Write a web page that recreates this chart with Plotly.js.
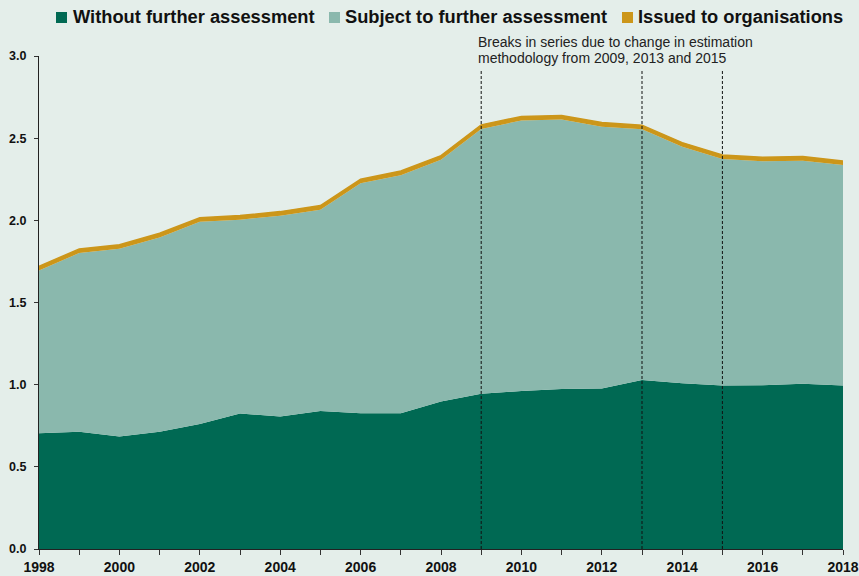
<!DOCTYPE html>
<html>
<head>
<meta charset="utf-8">
<script src="https://cdn.plot.ly/plotly-3.0.1.min.js"></script>
<style>
html,body{margin:0;padding:0;background:#e4eeea;}
#chart{width:859px;height:576px;}
</style>
</head>
<body>
<div id="chart"></div>
<script>
// Data (millions)
const years = [1998,1999,2000,2001,2002,2003,2004,2005,2006,2007,2008,2009,2010,2011,2012,2013,2014,2015,2016,2017,2018];
const withoutFurther = [0.705,0.713,0.684,0.714,0.761,0.824,0.806,0.840,0.826,0.826,0.897,0.944,0.962,0.974,0.976,1.029,1.009,0.995,0.997,1.005,0.995];
const subjectToFurther = [0.990,1.088,1.143,1.182,1.230,1.180,1.222,1.225,1.399,1.449,1.472,1.612,1.645,1.639,1.594,1.525,1.439,1.378,1.362,1.358,1.341];
const issuedToOrgs = [0.025,0.025,0.025,0.025,0.025,0.025,0.025,0.025,0.025,0.025,0.025,0.025,0.025,0.025,0.025,0.025,0.025,0.025,0.025,0.025,0.025];
const seriesNames = ['Without further assessment','Subject to further assessment','Issued to organisations'];
const breakYears = [2009,2013,2015];
const breakNoteLines = ['Breaks in series due to change in estimation','methodology from 2009, 2013 and 2015'];
const tickLabels = years.map(y => (y % 2 === 0 ? String(y) : ''));

const cDark = '#006953';
const cTeal = '#8ab8ad';
const cGold = '#cc961a';
const colors = [cDark, cTeal, cGold];
const bg = '#e4eeea';

const W = 859, H = 576;
const M = {l: 39, r: 16, t: 56, b: 27};
const pw = W - M.l - M.r, ph = H - M.t - M.b;
const px2paperX = px => (px - M.l) / pw;
const py2paperY = py => (H - M.b - py) / ph;

const traces = [
  {x: years, y: withoutFurther, name: seriesNames[0], type: 'scatter', mode: 'lines',
   stackgroup: 'one', fillcolor: cDark, line: {color: cDark, width: 0}},
  {x: years, y: subjectToFurther, name: seriesNames[1], type: 'scatter', mode: 'lines',
   stackgroup: 'one', fillcolor: cTeal, line: {color: cTeal, width: 0}},
  {x: years, y: issuedToOrgs, name: seriesNames[2], type: 'scatter', mode: 'lines',
   stackgroup: 'one', fillcolor: cGold, line: {color: cGold, width: 1.5}}
];

const topY = 2.915;
const shapes = breakYears.map(yr => ({
  type: 'line', xref: 'x', yref: 'y', x0: yr, x1: yr, y0: 0, y1: topY,
  line: {color: '#111', width: 1, dash: '3px,2px'}, layer: 'above'
}));

// Custom legend: small squares + bold labels
const legendSquareX = [56, 329, 622];
const legendTextX = [71, 343, 636];
const legendCY = 17;
legendSquareX.forEach((sx, i) => {
  shapes.push({type: 'rect', xref: 'paper', yref: 'paper',
    x0: px2paperX(sx), x1: px2paperX(sx + 11),
    y0: py2paperY(legendCY + 6), y1: py2paperY(legendCY - 5),
    fillcolor: colors[i], line: {width: 0}});
});
const annotations = seriesNames.map((nm, i) => ({
  xref: 'paper', yref: 'paper', x: px2paperX(legendTextX[i]), y: py2paperY(legendCY),
  xanchor: 'left', yanchor: 'middle', text: nm, showarrow: false,
  font: {size: 18.3, weight: 'bold', color: '#111', family: 'Liberation Sans, Arial, sans-serif'}
}));
breakNoteLines.forEach((t, i) => {
  annotations.push({
    xref: 'x', yref: 'paper', x: breakYears[0], y: py2paperY(41.5 + 16 * i),
    xanchor: 'left', yanchor: 'middle', xshift: -5, text: t, showarrow: false, align: 'left',
    font: {size: 14, color: '#222', family: 'Liberation Sans, Arial, sans-serif'}
  });
});

const layout = {
  width: W, height: H,
  paper_bgcolor: bg, plot_bgcolor: bg,
  margin: M,
  font: {family: 'Liberation Sans, Arial, sans-serif', color: '#111'},
  showlegend: false,
  xaxis: {
    range: [1998, 2018], tickmode: 'array', tickvals: years, ticktext: tickLabels,
    ticks: 'outside', ticklen: 5, tickcolor: '#333', showline: true, linecolor: '#222', linewidth: 1,
    showgrid: false, zeroline: false, automargin: false,
    tickfont: {size: 14, weight: 'bold', color: '#111'}
  },
  yaxis: {
    range: [0, 3], dtick: 0.5, tickformat: '.1f',
    ticks: 'outside', ticklen: 4, tickcolor: '#333', showline: true, linecolor: '#222', linewidth: 1,
    showgrid: false, zeroline: false, automargin: false, ticklabelstandoff: 5,
    tickfont: {size: 12.5, weight: 'bold', color: '#111'}
  },
  shapes: shapes,
  annotations: annotations
};

Plotly.newPlot('chart', traces, layout, {displayModeBar: false, staticPlot: true});
</script>
</body>
</html>
